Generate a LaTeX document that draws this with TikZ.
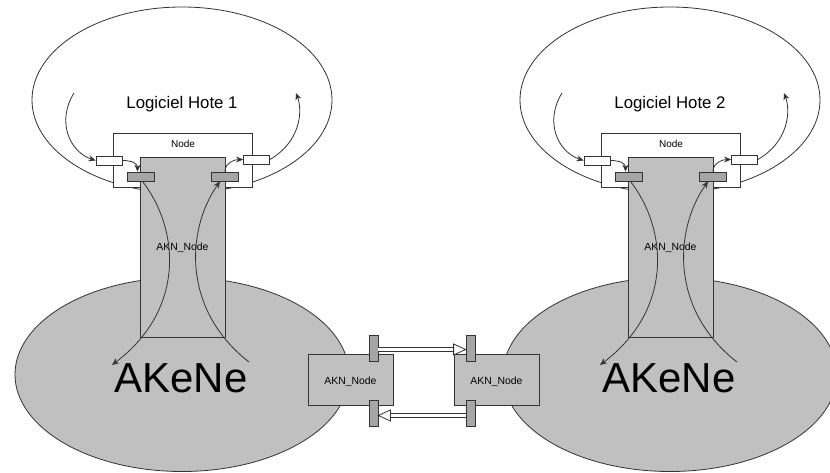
\documentclass[tikz,border=0pt]{standalone}
\usepackage{fontspec}
\setmainfont{Liberation Sans}
\usetikzlibrary{arrows.meta,calc,shapes.geometric}
\definecolor{fillgray}{HTML}{C0C0C0}
\definecolor{portgray}{HTML}{A6A6A6}
\definecolor{linegray}{HTML}{333333}
\tikzset{
  ln/.style={draw=linegray, line width=0.8pt},
  box/.style={ln, inner sep=0pt, rectangle},
  oval/.style={ln, ellipse, inner sep=0pt},
  wport/.style={box, fill=white, minimum width=26pt, minimum height=9pt},
  gport/.style={box, fill=portgray, minimum width=27pt, minimum height=9pt},
  vport/.style={box, fill=portgray, minimum width=9pt, minimum height=26pt},
  flow/.style={ln, -{Stealth[length=7pt,width=6pt]}},
  dbl/.style={draw=linegray, line width=0.8pt, double=white, double distance=3pt},
  hollow/.style={ln, fill=white, line join=miter},
  small/.style={inner sep=0pt, anchor=base, font=\fontsize{10.4}{12}\selectfont},
}
\newcommand\hostside[3]{%
\begin{scope}[xshift=#1pt]
  \node[oval, minimum width=300pt, minimum height=186pt] (#2host) at (182,100) {};
  \node[inner sep=0pt, anchor=base, font=\fontsize{16.8}{20}\selectfont] (#2hostlbl) at (182,109) {Logiciel Hote #3};
  \node[box, fill=white, minimum width=139pt, minimum height=54pt] (#2node) at (182.5,160) {};
  \node[small, font=\fontsize{10}{12}\selectfont] (#2nodelbl) at (183,148) {Node};
  \node[box, fill=fillgray, minimum width=85pt, minimum height=180pt] (#2akn) at (182.5,247) {};
  \node[small] (#2aknlbl) at (182.5,251) {AKN\_Node};
  \node[wport] (#2wl) at (109,160.5) {};
  \node[wport] (#2wr) at (256.5,159.5) {};
  \node[gport] (#2gl) at (140.5,176.5) {};
  \node[gport] (#2gr) at (225,176.5) {};
  \node[inner sep=0pt, anchor=base, font=\fontsize{42}{48}\selectfont] (#2akene) at (181,392) {AKeNe};
  \coordinate (#2s1) at (74,93);
  \coordinate (#2e3) at (112,365);
  \coordinate (#2s4) at (249,362);
  \coordinate (#2e6) at (296,93);
  \draw[flow] (#2s1) .. controls (56,122) and (70,152) .. (#2wl.west);
  \draw[flow] (#2wl.east) .. controls +(10,0) and +(0,-8) .. ([xshift=-3pt]#2gl.north);
  \draw[flow] ([xshift=2pt]#2gl.south) .. controls (180,230) and (185,310) .. (#2e3);
  \draw[flow] (#2s4) .. controls (182,310) and (186,230) .. ([xshift=-5pt]#2gr.south);
  \draw[flow] (#2gr.north) .. controls +(0,-9) and +(-8,0) .. (#2wr.west);
  \draw[flow] (#2wr.east) .. controls (300,142) and (303,112) .. (#2e6);
\end{scope}}
\begin{document}
\begin{tikzpicture}[x=1pt,y=-1pt]
  \useasboundingbox (0,0) rectangle (830,473);
  \fill[white] (0,0) rectangle (830,473);
  \node[oval, fill=fillgray, minimum width=334pt, minimum height=194pt] (net1) at (182,374.5) {};
  \node[oval, fill=fillgray, minimum width=334pt, minimum height=194pt] (net2) at (670,374.5) {};
  \hostside{0}{a}{1}
  \hostside{488}{b}{2}
  % middle nodes
  \node[box, fill=fillgray, minimum width=85pt, minimum height=51pt] (ml) at (350.5,379.5) {};
  \node[small] (mllbl) at (350.5,384) {AKN\_Node};
  \node[box, fill=fillgray, minimum width=85pt, minimum height=51pt] (mr) at (496.5,379.5) {};
  \node[small] (mrlbl) at (496.5,384) {AKN\_Node};
  \node[vport] (ml1) at (373.5,348) {};
  \node[vport] (ml2) at (373.5,413.5) {};
  \node[vport] (mr1) at (470.5,348) {};
  \node[vport] (mr2) at (470.5,413.5) {};
  \draw[dbl, shorten >=11pt] ([yshift=-1.5pt]ml1.east) -- ([yshift=-1.5pt]mr1.west);
  \draw[hollow] ([yshift=-1.5pt]mr1.west) -- ++(-12,-5.5) -- ++(0,11) -- cycle;
  \draw[dbl, shorten >=11pt] ([yshift=-2pt]mr2.west) -- ([yshift=-2pt]ml2.east);
  \draw[hollow] ([yshift=-2pt]ml2.east) -- ++(12,-5.5) -- ++(0,11) -- cycle;
\end{tikzpicture}
\end{document}
